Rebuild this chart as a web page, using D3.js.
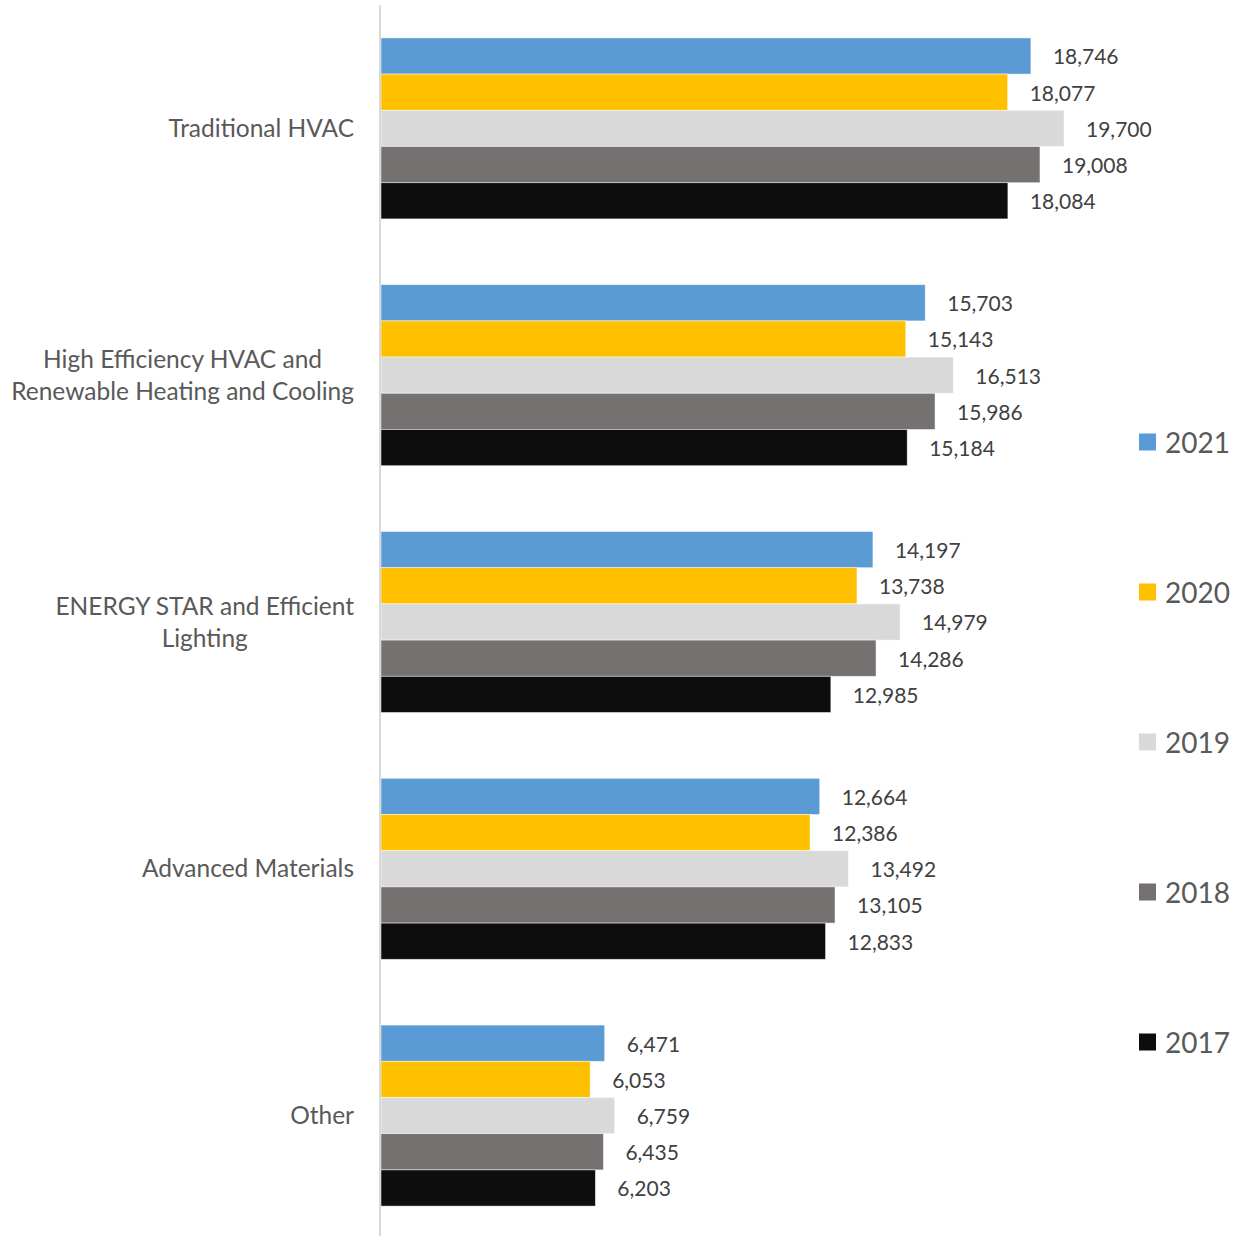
<!DOCTYPE html>
<html>
<head>
<meta charset="utf-8">
<script src="https://cdn.jsdelivr.net/npm/d3@7"></script>
<style>
  html, body { margin: 0; padding: 0; background: #fff; }
  svg { display: block; }
</style>
</head>
<body>
<svg id="chart" width="1246" height="1236"></svg>
<script>
// Job counts by technology category, 2017–2021
const categories = [
  ["Traditional HVAC"],
  ["High Efficiency HVAC and", "Renewable Heating and Cooling"],
  ["ENERGY STAR and Efficient", "Lighting"],
  ["Advanced Materials"],
  ["Other"]
];
const years = ["2021", "2020", "2019", "2018", "2017"];
const colors = ["#5B9BD5", "#FFC000", "#D9D9D9", "#767171", "#0D0D0D"];

const values2021 = [18746, 15703, 14197, 12664, 6471];
const values2020 = [18077, 15143, 13738, 12386, 6053];
const values2019 = [19700, 16513, 14979, 13492, 6759];
const values2018 = [19008, 15986, 14286, 13105, 6435];
const values2017 = [18084, 15184, 12985, 12833, 6203];
const seriesValues = [values2021, values2020, values2019, values2018, values2017];

const svg = d3.select("#chart");
const fontFamily = "Lato, 'Open Sans', sans-serif";

const x0 = 380;
const x = d3.scaleLinear().domain([0, 19700]).range([x0, 1064]);
const y = d3.scaleBand()
  .domain(d3.range(categories.length))
  .range([5, 1239])
  .paddingInner(0.2666)
  .paddingOuter(0.1333);
const ySub = d3.scaleBand()
  .domain(d3.range(years.length))
  .range([0, y.bandwidth()]);

const fmt = d3.format(",");

// bars and value labels
const groups = svg.append("g").selectAll("g")
  .data(categories)
  .join("g")
  .attr("transform", (d, i) => `translate(0,${y(i)})`);

groups.each(function(cat, ci) {
  const g = d3.select(this);
  const rows = years.map((yr, si) => ({ si, v: seriesValues[si][ci] }));
  g.selectAll("rect")
    .data(rows)
    .join("rect")
    .attr("x", x(0) + 1)
    .attr("y", d => ySub(d.si))
    .attr("width", d => x(d.v) - x(0) - 1)
    .attr("height", ySub.bandwidth())
    .attr("fill", d => colors[d.si])
    .attr("stroke", "#ffffff")
    .attr("stroke-opacity", 0.6)
    .attr("stroke-width", 0.8);
  g.selectAll("text")
    .data(rows)
    .join("text")
    .attr("x", d => x(d.v) + 22)
    .attr("y", d => ySub(d.si) + ySub.bandwidth() / 2 + 1)
    .attr("dy", "0.35em")
    .attr("font-family", fontFamily)
    .attr("font-size", 21)
    .attr("fill", "#404040")
    .text(d => fmt(d.v));
});

// vertical category axis line
svg.append("line")
  .attr("x1", x0).attr("x2", x0)
  .attr("y1", 5).attr("y2", 1236)
  .attr("stroke", "#D9D9D9")
  .attr("stroke-width", 2);

// category labels: lines centered on each other, block right-aligned to the axis
const labelRight = 354;
const lineH = 32;
categories.forEach((lines, i) => {
  const cy = y(i) + y.bandwidth() / 2;
  const g = svg.append("g");
  const texts = lines.map((ln, li) => g.append("text")
    .attr("y", cy + (li - (lines.length - 1) / 2) * lineH)
    .attr("dy", "0.35em")
    .attr("font-family", fontFamily)
    .attr("font-size", 24.5)
    .attr("fill", "#595959")
    .attr("text-anchor", "middle")
    .text(ln));
  const maxW = d3.max(texts, t => t.node().getComputedTextLength());
  texts.forEach(t => t.attr("x", labelRight - maxW / 2));
});

// legend
const legend = svg.append("g").selectAll("g")
  .data(years)
  .join("g")
  .attr("transform", (d, i) => `translate(1139,${442 + i * 150})`);
legend.append("rect")
  .attr("x", 0).attr("y", -8.5)
  .attr("width", 17).attr("height", 17)
  .attr("fill", (d, i) => colors[i]);
legend.append("text")
  .attr("x", 26).attr("y", 1)
  .attr("dy", "0.35em")
  .attr("font-family", fontFamily)
  .attr("font-size", 28)
  .attr("fill", "#595959")
  .text(d => d);
</script>
</body>
</html>
